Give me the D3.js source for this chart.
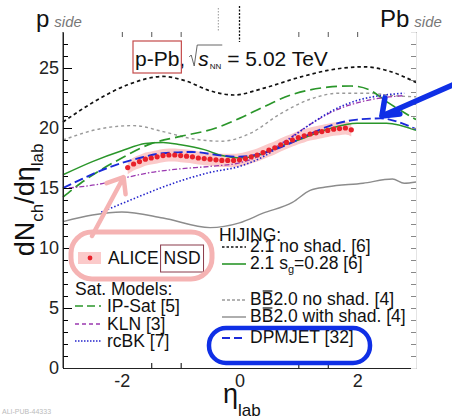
<!DOCTYPE html>
<html>
<head>
<meta charset="utf-8">
<script src="https://cdn.jsdelivr.net/npm/d3@7"></script>
<style>
  body { margin: 0; background: #fff; }
  text { font-family: "Liberation Sans", Arial, sans-serif; }
</style>
</head>
<body>
<svg id="chart" width="452" height="417"></svg>
<script>
// ALICE NSD points
const etaAlice = [-1.9,-1.8,-1.7,-1.6,-1.5,-1.4,-1.3,-1.2,-1.1,-1.0,-0.9,-0.8,-0.7,-0.6,-0.5,-0.4,-0.3,-0.2,-0.1,0.0,
                  0.1,0.2,0.3,0.4,0.5,0.6,0.7,0.8,0.9,1.0,1.1,1.2,1.3,1.4,1.5,1.6,1.7,1.8,1.9];
const alice = [16.7,17.0,17.2,17.4,17.5,17.6,17.7,17.75,17.75,17.7,17.65,17.6,17.5,17.45,17.4,17.35,17.3,17.3,17.3,17.35,
               17.45,17.6,17.75,17.95,18.15,18.35,18.6,18.8,19.0,19.2,19.35,19.5,19.6,19.7,19.8,19.9,19.95,20.0,19.85];

// HIJING 2.1 no shad.
const etaHijingNoShad = [-3,-2.5,-1.9,-1.3,-0.9,-0.5,-0.1,0.4,1.0,1.5,2.1,2.5,3];
const hijingNoShad = [20.5,22.1,23.6,24.3,23.9,23.1,22.75,23.3,24.2,24.8,25.1,24.8,23.8];

// HIJING 2.1 sg=0.28
const etaHijingSg = [-3,-2.5,-2,-1.6,-1.3,-1,-0.6,-0.3,0,0.3,0.6,1,1.5,2,2.5,3];
const hijingSg = [16.1,17.2,18.1,18.7,18.8,18.6,18.2,17.7,17.5,17.7,18.3,19.0,19.9,20.4,20.4,19.8];

// BBbar 2.0 no shad.
const etaBBNoShad = [-3,-2.4,-1.8,-1.3,-0.8,-0.3,0.2,0.7,1.2,1.7,2.2,2.6,3];
const bbNoShad = [19.0,19.9,20.2,19.7,19.1,18.9,19.6,21.2,22.4,22.9,22.9,22.7,22.6];

// BBbar 2.0 with shad.
const etaBBShad = [-3,-2.5,-2,-1.3,-0.5,0,0.4,0.9,1.2,1.5,2.1,2.6,2.8,3];
const bbShad = [12.2,12.75,13.0,12.5,11.7,12.1,12.9,13.8,14.8,15.1,15.4,15.75,15.4,15.5];

// DPMJET
const etaDpmjet = [-3,-2.7,-2.2,-1.7,-1.3,-0.8,-0.3,0,0.4,0.8,1.2,1.6,2,2.4,2.7,3];
const dpmjet = [15.0,15.7,16.75,17.5,17.9,18.0,17.7,17.6,17.9,18.6,19.5,20.3,20.7,20.8,20.5,19.9];

// IP-Sat
const etaIpSat = [-3,-2.7,-2,-1.5,-1,-0.4,0,0.3,0.9,1.5,1.9,2.2,2.5,3];
const ipSat = [14.25,15.4,17.5,18.7,19.3,20.0,20.8,21.5,22.8,23.4,23.5,23.2,22.2,20.7];

// KLN
const etaKln = [-2.9,-2.3,-1.9,-1.5,-1,-0.5,0,0.4,0.8,1.2,1.6,2,2.4,2.8];
const kln = [15.0,15.4,15.9,16.3,16.6,16.8,17.1,17.8,19.0,20.3,21.4,22.1,22.5,22.7];

// rcBK
const etaRcbk = [-2.35,-2,-1.5,-1,-0.5,0,0.4,0.8,1.2,1.6,2,2.4,2.8];
const rcbk = [13.0,13.7,14.7,15.6,16.3,16.8,17.6,18.9,20.3,21.5,22.3,22.7,22.9];

const yMajorTicks = [0, 5, 10, 15, 20, 25];
const xLabelTicks = [-2, 0, 2];
const xMinorTicks = [-1.5, -1, 1, 1.5, 3];
const xTopTicks = [-2, -1.5, -1, 1, 1.5, 2, 3];
const etaCmsMarks = [-0.36, 0];

const svg = d3.select("#chart");
const x = d3.scaleLinear().domain([-3, 3]).range([63, 416]);
const y = d3.scaleLinear().domain([0, 28]).range([368, 32]);

// ALICE systematic band
const band = d3.area()
  .x((d, i) => x(etaAlice[i]))
  .y0(d => y(d - 0.55))
  .y1(d => y(d + 0.55))
  .curve(d3.curveMonotoneX);
svg.append("path").datum(alice).attr("d", band).attr("fill", "#fbcaca");

// model curves
const line = d3.line().x(d => x(d[0])).y(d => y(d[1])).curve(d3.curveMonotoneX);
const models = [
  { eta: etaBBShad, val: bbShad, color: "#8c8c8c", dash: null, w: 1.4 },
  { eta: etaBBNoShad, val: bbNoShad, color: "#9a9a9a", dash: "3,3", w: 1.4 },
  { eta: etaHijingNoShad, val: hijingNoShad, color: "#111", dash: "3.5,3", w: 1.7 },
  { eta: etaIpSat, val: ipSat, color: "#2a962a", dash: "11,5", w: 1.7 },
  { eta: etaHijingSg, val: hijingSg, color: "#2a962a", dash: null, w: 1.5 },
  { eta: etaKln, val: kln, color: "#9a38b0", dash: "5,2,1.5,2", w: 1.3 },
  { eta: etaRcbk, val: rcbk, color: "#2424cc", dash: "1.5,2", w: 1.6 },
  { eta: etaDpmjet, val: dpmjet, color: "#1a2ad8", dash: "9,4", w: 1.9 }
];
models.forEach(m => {
  svg.append("path")
    .datum(d3.zip(m.eta, m.val))
    .attr("d", line)
    .attr("fill", "none")
    .attr("stroke", m.color)
    .attr("stroke-width", m.w)
    .attr("stroke-dasharray", m.dash);
});

// ALICE points
svg.append("g").selectAll("circle")
  .data(alice)
  .join("circle")
  .attr("cx", (d, i) => x(etaAlice[i]))
  .attr("cy", d => y(d))
  .attr("r", 2.6)
  .attr("fill", "#e8202a");

// axes
const yAxis = svg.append("g").attr("transform", `translate(${x(-3)},0)`)
  .call(d3.axisLeft(y).tickValues(yMajorTicks).tickSize(-9).tickSizeOuter(0).tickPadding(4).tickFormat(d => d));
yAxis.select(".domain").attr("stroke", "#222");
yAxis.selectAll("text").attr("font-size", 18).attr("fill", "#222").attr("font-family", "Liberation Sans, Arial");
svg.append("g").attr("transform", `translate(${x(-3)},0)`)
  .call(d3.axisLeft(y).tickValues(d3.range(0, 28, 1)).tickSize(-5).tickSizeOuter(0).tickFormat(""))
  .call(g => g.select(".domain").remove());
svg.append("line").attr("x1", x(-3)).attr("x2", x(-3)).attr("y1", y(28)).attr("y2", y(0)).attr("stroke", "#222");

const xAxis = svg.append("g").attr("transform", `translate(0,${y(0)})`)
  .call(d3.axisBottom(x).tickValues(xLabelTicks).tickSize(0).tickPadding(6).tickFormat(d => d));
xAxis.select(".domain").attr("stroke", "#222");
xAxis.selectAll("text").attr("font-size", 18).attr("fill", "#222").attr("font-family", "Liberation Sans, Arial");
svg.append("g").attr("transform", `translate(0,${y(0)})`)
  .call(d3.axisBottom(x).tickValues(xMinorTicks).tickSize(-5).tickFormat(""))
  .call(g => g.select(".domain").remove());

// top and right faint frame ticks
svg.append("g").attr("transform", `translate(0,${y(28)})`)
  .call(d3.axisTop(x).tickValues(xTopTicks).tickSize(-5).tickFormat(""))
  .call(g => g.select(".domain").remove())
  .selectAll("line").attr("stroke", "#555");
svg.append("g").attr("transform", `translate(${x(3)},0)`)
  .call(d3.axisRight(y).tickValues(d3.range(1, 28, 1)).tickSize(-5).tickFormat(""))
  .call(g => g.select(".domain").attr("stroke", "#e4e4e4"))
  .selectAll("line").attr("stroke", "#888");

svg.append("line").attr("x1", x(etaCmsMarks[0])).attr("x2", x(etaCmsMarks[0]))
  .attr("y1", 8).attr("y2", y(28)).attr("stroke", "#999").attr("stroke-dasharray", "1.5,1.5");
svg.append("line").attr("x1", x(etaCmsMarks[1])).attr("x2", x(etaCmsMarks[1]))
  .attr("y1", 6).attr("y2", 42).attr("stroke", "#111").attr("stroke-width", 1.3).attr("stroke-dasharray", "2,1.5");

// sequential text helper
function seq(parts, x0, yb) {
  let cx = x0;
  parts.forEach(p => {
    cx += p.dx || 0;
    const t = svg.append("text").attr("x", cx).attr("y", yb + (p.dy || 0))
      .attr("font-size", p.size).attr("fill", p.fill || "#111").text(p.text);
    if (p.style) t.attr("font-style", p.style);
    p.x = cx;
    p.w = t.node().getComputedTextLength();
    cx += p.w;
  });
  return parts;
}

// p side / Pb side
seq([{ text: "p", size: 24 }, { text: "side", size: 15, style: "italic", fill: "#777", dx: 5 }], 36, 27);
seq([{ text: "Pb", size: 24 }, { text: "side", size: 15, style: "italic", fill: "#777", dx: 5 }], 380, 27);

// title
const title = seq([
  { text: "p-Pb", size: 21 },
  { text: ",", size: 21 },
  { text: "s", size: 21, style: "italic", dx: 13 },
  { text: "NN", size: 8, dy: 3, dx: 1 },
  { text: "= 5.02 TeV", size: 21, dx: 6 }
], 135, 66);
svg.append("rect").attr("x", title[0].x - 2).attr("y", 41).attr("width", title[0].w + 4).attr("height", 32)
  .attr("fill", "none").attr("stroke", "#c44a4a").attr("stroke-width", 1.2);
const rx0 = title[2].x;
svg.append("path")
  .attr("d", `M${rx0 - 9},57 L${rx0 - 7},55 L${rx0 - 4},66 L${rx0 - 1},45 L${title[3].x + title[3].w + 1},45`)
  .attr("fill", "none").attr("stroke", "#555").attr("stroke-width", 0.9);

// axis titles
const yl = svg.append("text").attr("transform", "translate(34,200) rotate(-90)")
  .attr("text-anchor", "middle").attr("font-size", 27).attr("fill", "#111");
yl.append("tspan").text("dN");
yl.append("tspan").attr("font-size", 17).attr("dy", 9).text("ch");
yl.append("tspan").attr("dy", -9).text("/d\u03B7");
yl.append("tspan").attr("font-size", 17).attr("dy", 9).text("lab");

seq([{ text: "\u03B7", size: 27 }, { text: "lab", size: 17, dy: 13 }], 223, 403);

svg.append("text").attr("x", 2).attr("y", 414).attr("font-size", 7).attr("fill", "#bbb").text("ALI-PUB-44333");

// legend
const lg = svg.append("g");
lg.append("rect").attr("x", 78).attr("y", 252).attr("width", 23).attr("height", 12).attr("fill", "#fbcaca");
lg.append("circle").attr("cx", 90).attr("cy", 258).attr("r", 2.4).attr("fill", "#e8202a");
const alicePart = seq([{ text: "ALICE", size: 17.5 }, { text: "NSD", size: 17.5, dx: 5 }], 108, 264);
svg.append("rect").attr("x", alicePart[1].x - 3).attr("y", 245).attr("width", alicePart[1].w + 6).attr("height", 27)
  .attr("fill", "none").attr("stroke", "#8a3a4a").attr("stroke-width", 1);

seq([{ text: "Sat. Models:", size: 17.5 }], 75, 295);
const leftEntries = [
  { label: "IP-Sat [5]", color: "#2a962a", dash: "8,4", ly: 306 },
  { label: "KLN [3]", color: "#9a38b0", dash: "4,3", ly: 324 },
  { label: "rcBK [7]", color: "#2424cc", dash: "1.5,1.5", ly: 341 }
];
leftEntries.forEach(e => {
  lg.append("line").attr("x1", 75).attr("x2", 101).attr("y1", e.ly).attr("y2", e.ly)
    .attr("stroke", e.color).attr("stroke-width", 1.6).attr("stroke-dasharray", e.dash);
  seq([{ text: e.label, size: 17.5 }], 107, e.ly + 6);
});

seq([{ text: "HIJING:", size: 17.5 }], 219, 241);
const rightLines = [
  { color: "#111", dash: "2.5,2", w: 1.6, ly: 247 },
  { color: "#2a962a", dash: null, w: 1.6, ly: 264 },
  { color: "#9a9a9a", dash: "3,2", w: 1.4, ly: 300 },
  { color: "#8c8c8c", dash: null, w: 1.4, ly: 317 },
  { color: "#1a2ad8", dash: "8,4", w: 1.8, ly: 338 }
];
rightLines.forEach(e => {
  lg.append("line").attr("x1", 222).attr("x2", 246).attr("y1", e.ly).attr("y2", e.ly)
    .attr("stroke", e.color).attr("stroke-width", e.w).attr("stroke-dasharray", e.dash);
});
seq([{ text: "2.1 no shad. [6]", size: 17.5 }], 250, 252);
seq([{ text: "2.1 s", size: 17.5 }, { text: "g", size: 11, dy: 4 }, { text: "=0.28 [6]", size: 17.5 }], 250, 269);
["2.0 no shad. [4]", "2.0 with shad. [4]"].forEach((lab, i) => {
  const yb = i === 0 ? 305 : 322;
  const p = seq([{ text: "B", size: 17.5 }, { text: "B", size: 17.5 }, { text: lab, size: 17.5 }], 250, yb);
  svg.append("line").attr("x1", p[1].x + 1).attr("x2", p[1].x + p[1].w - 1)
    .attr("y1", yb - 14).attr("y2", yb - 14).attr("stroke", "#111").attr("stroke-width", 1.2);
});
seq([{ text: "DPMJET [32]", size: 17.5 }], 250, 343);

// hand-drawn annotations
const pink = "#f5b3b3";
svg.append("rect").attr("x", 71).attr("y", 232).attr("width", 141).attr("height", 47).attr("rx", 21)
  .attr("fill", "none").attr("stroke", pink).attr("stroke-width", 5);
const tipP = [x(-1.97), y(15.9)];
svg.append("path")
  .attr("d", `M92,236 L${tipP[0]},${tipP[1]} M${tipP[0] - 17},${tipP[1] + 6} L${tipP[0]},${tipP[1]} L${tipP[0] + 2},${tipP[1] + 17}`)
  .attr("fill", "none").attr("stroke", pink).attr("stroke-width", 4.5).attr("stroke-linecap", "round").attr("stroke-linejoin", "round");

const blue = "#0f2fe6";
svg.append("rect").attr("x", 209).attr("y", 328).attr("width", 161).attr("height", 35).attr("rx", 17)
  .attr("fill", "none").attr("stroke", blue).attr("stroke-width", 4.5);
const tipB = [x(2.42), y(21.0)];
svg.append("path")
  .attr("d", `M455,${tipB[1] - 32} L${tipB[0]},${tipB[1]} M${tipB[0] + 3},${tipB[1] - 18} L${tipB[0]},${tipB[1]} L${tipB[0] + 18},${tipB[1] - 2}`)
  .attr("fill", "none").attr("stroke", blue).attr("stroke-width", 5.5).attr("stroke-linecap", "round").attr("stroke-linejoin", "round");
</script>
</body>
</html>
